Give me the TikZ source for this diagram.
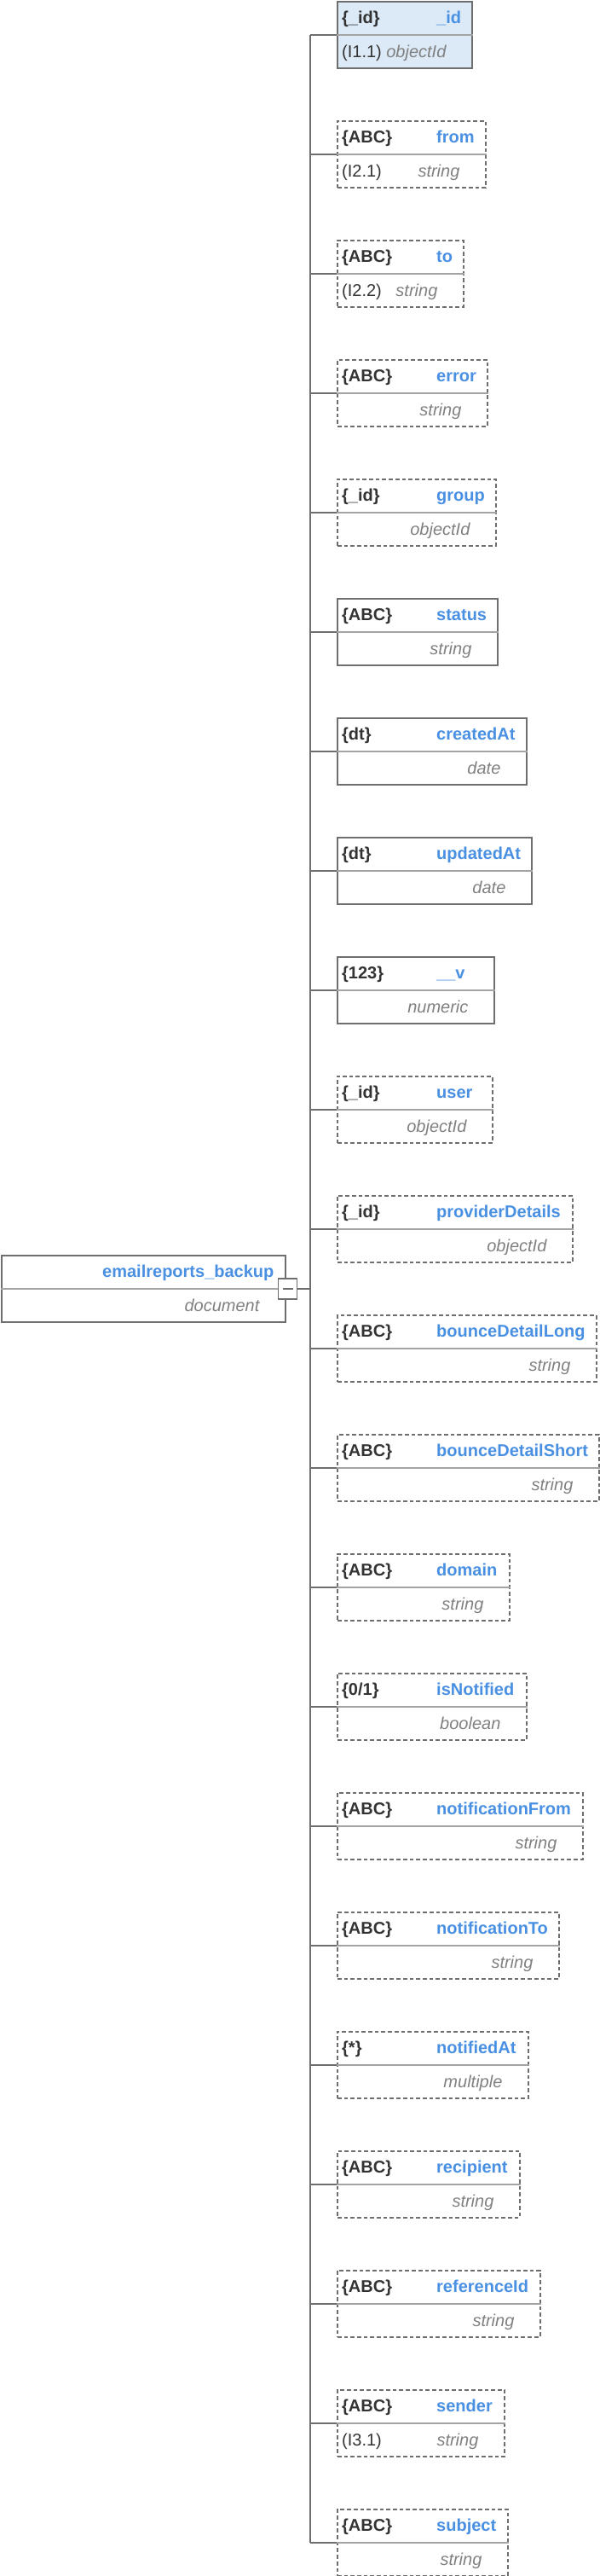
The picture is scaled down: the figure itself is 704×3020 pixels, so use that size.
\documentclass[tikz,border=0pt]{standalone}
\usepackage{fontspec}
\setmainfont{Liberation Sans}
\usepackage{tikz}
\usetikzlibrary{positioning,calc}
\definecolor{linec}{HTML}{6E6E6E}
\definecolor{divc}{HTML}{A3A3A3}
\definecolor{namec}{HTML}{4A90E2}
\definecolor{typec}{HTML}{333333}
\definecolor{dtc}{HTML}{808080}
\definecolor{keyc}{HTML}{DCE9F7}
\newcommand{\fsz}{\fontsize{20}{24}\selectfont}

\begin{document}
\begin{tikzpicture}[x=1pt, y=-1pt, font=\fsz,
  fbox/.style={draw=linec, line width=1.6pt, anchor=north west, inner sep=0pt, minimum height=78pt},
  reqbox/.style={fbox},
  optbox/.style={fbox, dash pattern=on 4.7pt off 3pt},
  keybox/.style={fbox, fill=keyc},
  minusbox/.style={draw=linec, fill=white, line width=1.6pt, inner sep=0pt, minimum width=22pt, minimum height=24pt},
  tlab/.style={anchor=base west, inner sep=0pt, font=\fsz\bfseries, text=typec},
  nlab/.style={anchor=base west, inner sep=0pt, font=\fsz\bfseries, text=namec},
  dlab/.style={anchor=base east, inner sep=0pt, font=\fsz\itshape, text=dtc},
  ilab/.style={anchor=base west, inner sep=0pt, font=\fsz, text=typec},
  divline/.style={divc, line width=1.5pt},
  conn/.style={linec, line width=1.6pt}]
  \useasboundingbox (0,0) rectangle (704,3020);
  \coordinate (trunk) at (364,1510);
  % fields of the collection
  \foreach \i/\s/\t/\n/\d/\w in {0/keybox/\{\_id\}/\_id/objectId/158,
      1/optbox/\{ABC\}/from/string/174, 2/optbox/\{ABC\}/to/string/148,
      3/optbox/\{ABC\}/error/string/176, 4/optbox/\{\_id\}/group/objectId/186,
      5/reqbox/\{ABC\}/status/string/188, 6/reqbox/\{dt\}/createdAt/date/222,
      7/reqbox/\{dt\}/updatedAt/date/228, 8/reqbox/\{123\}/\_\_v/numeric/184,
      9/optbox/\{\_id\}/user/objectId/182, 10/optbox/\{\_id\}/providerDetails/objectId/276,
      11/optbox/\{ABC\}/bounceDetailLong/string/304, 12/optbox/\{ABC\}/bounceDetailShort/string/307,
      13/optbox/\{ABC\}/domain/string/202, 14/optbox/{\{0/1\}}/isNotified/boolean/222,
      15/optbox/\{ABC\}/notificationFrom/string/288, 16/optbox/\{ABC\}/notificationTo/string/260,
      17/optbox/\{*\}/notifiedAt/multiple/224, 18/optbox/\{ABC\}/recipient/string/214,
      19/optbox/\{ABC\}/referenceId/string/238, 20/optbox/\{ABC\}/sender/string/196,
      21/optbox/\{ABC\}/subject/string/200} {
    \node[\s, minimum width=\w pt] (f\i) at (395,{1+140*\i}) {};
    \draw[divline] (f\i.west) -- (f\i.east);
    \node[tlab] (t\i) at ($(f\i.north west)+(6,26)$) {\t};
    \node[nlab] (n\i) at ($(f\i.north west)+(117,26)$) {\n};
    \node[dlab] (d\i) at ($(f\i.north east)+(-31,66)$) {\d};
    \draw[conn] (f\i.west) -- (f\i.west -| trunk);
  }
  % index labels
  \foreach \i/\l in {0/I1.1, 1/I2.1, 2/I2.2, 20/I3.1}
    \node[ilab] (ix\i) at ($(f\i.north west)+(6,66)$) {(\l)};
  \draw[conn] (f0.west -| trunk) -- (f21.west -| trunk);
  % root document
  \node[fbox, minimum width=333pt] (root) at (1,1471) {};
  \draw[divline] (root.west) -- (root.east);
  \node[nlab, anchor=base east] (rootname) at ($(root.north east)+(-14,26)$) {emailreports\_backup};
  \node[dlab] (roottype) at ($(root.north east)+(-31,66)$) {document};
  \node[minusbox] (minus) at ($(root.east)+(2,0)$) {};
  \draw[conn] ($(minus.center)+(-6,0)$) -- ($(minus.center)+(6,0)$);
  \draw[conn] (minus.east) -- (minus.east -| trunk);
\end{tikzpicture}
\end{document}
